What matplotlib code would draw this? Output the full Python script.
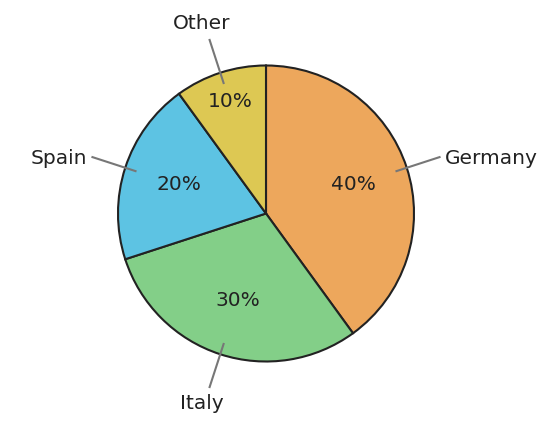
import numpy as np
import matplotlib
matplotlib.use("Agg")
import matplotlib.pyplot as plt

labels = ["Germany", "Italy", "Spain", "Other"]
values = [40, 30, 20, 10]
colors = ["#EDA75C", "#83CF88", "#5DC3E3", "#DDC853"]

fig = plt.figure(figsize=(5.52, 4.39), dpi=100)
ax = fig.add_axes([0, 0, 1, 1])
ax.set_xlim(0, 552)
ax.set_ylim(0, 439)
ax.set_aspect("equal")
ax.axis("off")

cx, cy, R = 266, 224.5, 148
wedges, _ = ax.pie(values, colors=colors, startangle=90, counterclock=False,
                   center=(cx, cy), radius=R,
                   wedgeprops=dict(edgecolor="#222222", linewidth=1.5))
ax.set_xlim(0, 552)
ax.set_ylim(0, 439)

total = sum(values)
for w, lab, v in zip(wedges, labels, values):
    ang = np.deg2rad((w.theta1 + w.theta2) / 2)
    ca, sa = np.cos(ang), np.sin(ang)
    pr = 0.62 if v / total >= 0.15 else 0.79
    ax.text(cx + pr * R * ca, cy + pr * R * sa + 1.5, f"{v / total * 100:.0f}%",
            ha="center", va="center", fontsize=14.5, color="#222222")
    ax.plot([cx + 0.92 * R * ca, cx + 1.24 * R * ca],
            [cy + 0.92 * R * sa, cy + 1.24 * R * sa],
            color="#777777", lw=1.5, solid_capstyle="butt")
    if abs(ca) > 0.6:
        ha = "left" if ca > 0 else "right"
        tx = cx + 1.27 * R * ca
        ty = cy + 1.22 * R * sa
    else:
        ha = "center"
        tx = cx + 1.40 * R * ca
        ty = cy + 1.345 * R * sa + (2 if sa > 0 else 0)
    ax.text(tx, ty, lab, ha=ha, va="center", fontsize=14.5, color="#222222")

fig.savefig("out.png", dpi=100)
